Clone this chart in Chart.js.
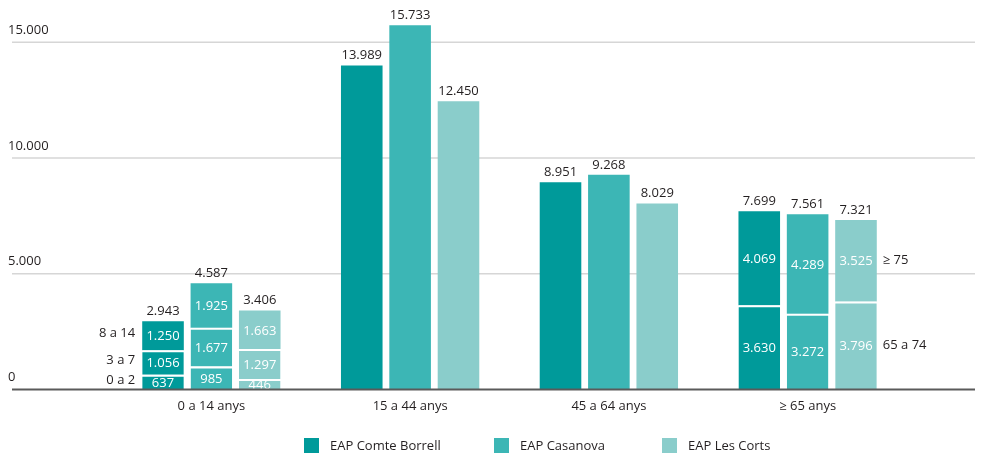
<!DOCTYPE html>
<html>
<head>
<meta charset="utf-8">
<script src="https://cdn.jsdelivr.net/npm/chart.js@4.4.1/dist/chart.umd.min.js"></script>
<style>
  html, body { margin: 0; padding: 0; background: #fff; }
  #wrap { width: 992px; height: 455px; }
</style>
</head>
<body>
<div id="wrap"><canvas id="chart"></canvas></div>
<script>
// categories and series
const categories = ['0 a 14 anys', '15 a 44 anys', '45 a 64 anys', '≥ 65 anys'];
const centres = ['EAP Comte Borrell', 'EAP Casanova', 'EAP Les Corts'];
const centreColors = ['#009a9a', '#3cb6b5', '#8acdcb'];

// stacked segments (bottom to top), null where the group has no split
const comteSeg1 = [637, 13989, 8951, 3630];
const comteSeg2 = [1056, null, null, 4069];
const comteSeg3 = [1250, null, null, null];

const casanovaSeg1 = [985, 15733, 9268, 3272];
const casanovaSeg2 = [1677, null, null, 4289];
const casanovaSeg3 = [1925, null, null, null];

const lesCortsSeg1 = [446, 12450, 8029, 3796];
const lesCortsSeg2 = [1297, null, null, 3525];
const lesCortsSeg3 = [1663, null, null, null];

// age sub-band labels
const youngBands = ['0 a 2', '3 a 7', '8 a 14'];
const oldBands = ['65 a 74', '≥ 75'];

const yTicks = [0, 5000, 10000, 15000];

const FONT = '13px "Open Sans"';
const TEXT = '#231f20';

function fmt(n) {
    return String(n).replace(/\B(?=(\d{3})+(?!\d))/g, '.');
}

const segments = [
    [comteSeg1, comteSeg2, comteSeg3],
    [casanovaSeg1, casanovaSeg2, casanovaSeg3],
    [lesCortsSeg1, lesCortsSeg2, lesCortsSeg3]
];

const datasets = [];
segments.forEach((segs, c) => {
    segs.forEach((data, s) => {
        datasets.push({
            label: centres[c],
            data: data,
            stack: 'c' + c,
            backgroundColor: centreColors[c],
            borderColor: '#ffffff',
            borderSkipped: false,
            borderWidth: ctx => {
                const next = segs[s + 1];
                const above = next && next[ctx.dataIndex] != null;
                return { top: above ? 2 : 0, bottom: 0, left: 0, right: 0 };
            }
        });
    });
});

// grid, axis, labels, legend
const decorPlugin = {
    id: 'decor',
    beforeDatasetsDraw(chart) {
        const ctx = chart.ctx;
        const y = chart.scales.y;
        ctx.save();
        ctx.strokeStyle = '#d6d6d6';
        ctx.lineWidth = 1.5;
        yTicks.forEach(v => {
            if (v === 0) return;
            const py = y.getPixelForValue(v);
            ctx.beginPath();
            ctx.moveTo(12, py);
            ctx.lineTo(975, py);
            ctx.stroke();
        });
        ctx.font = FONT;
        ctx.fillStyle = TEXT;
        ctx.textAlign = 'left';
        ctx.textBaseline = 'middle';
        yTicks.forEach(v => {
            ctx.fillText(fmt(v), 8, y.getPixelForValue(v) - 12);
        });
        ctx.restore();
    },
    afterDatasetsDraw(chart) {
        const ctx = chart.ctx;
        const y = chart.scales.y;
        ctx.save();
        ctx.font = FONT;
        ctx.textAlign = 'center';
        ctx.textBaseline = 'middle';

        // white values inside split segments, totals on top
        segments.forEach((segs, c) => {
            categories.forEach((cat, i) => {
                let total = 0, topY = null, x = null, parts = 0;
                segs.forEach((data, s) => {
                    const v = data[i];
                    if (v == null) return;
                    const bar = chart.getDatasetMeta(c * 3 + s).data[i];
                    total += v;
                    parts++;
                    topY = bar.y;
                    x = bar.x;
                });
                if (parts > 1) {
                    segs.forEach((data, s) => {
                        const v = data[i];
                        if (v == null) return;
                        const bar = chart.getDatasetMeta(c * 3 + s).data[i];
                        ctx.fillStyle = '#ffffff';
                        ctx.fillText(fmt(v), bar.x, (bar.y + bar.base) / 2 + 1);
                    });
                }
                ctx.fillStyle = TEXT;
                ctx.fillText(fmt(total), x, topY - 10);
            });
        });

        // band labels: left of first group, right of last group
        ctx.fillStyle = TEXT;
        ctx.textAlign = 'right';
        youngBands.forEach((lab, s) => {
            const bar = chart.getDatasetMeta(s).data[0];
            ctx.fillText(lab, bar.x - bar.width / 2 - 7, (bar.y + bar.base) / 2 - 2);
        });
        ctx.textAlign = 'left';
        oldBands.forEach((lab, s) => {
            const bar = chart.getDatasetMeta(6 + s).data[3];
            ctx.fillText(lab, bar.x + bar.width / 2 + 6, (bar.y + bar.base) / 2);
        });

        // zero axis line
        const py = y.getPixelForValue(0);
        ctx.strokeStyle = '#5a5a5a';
        ctx.lineWidth = 2;
        ctx.beginPath();
        ctx.moveTo(12, py);
        ctx.lineTo(975, py);
        ctx.stroke();

        // legend
        const boxX = [304, 494, 662];
        ctx.textBaseline = 'middle';
        centres.forEach((name, c) => {
            ctx.fillStyle = centreColors[c];
            ctx.fillRect(boxX[c], 438, 15, 15);
            ctx.fillStyle = TEXT;
            ctx.fillText(name, boxX[c] + 26, 446);
        });
        ctx.restore();
    }
};

new Chart(document.getElementById('chart'), {
    type: 'bar',
    data: { labels: categories, datasets: datasets },
    options: {
        responsive: true,
        maintainAspectRatio: false,
        animation: false,
        layout: { padding: { left: 112, right: 85, top: 19, bottom: 32 } },
        datasets: { bar: { categoryPercentage: 0.73, barPercentage: 0.86 } },
        plugins: {
            legend: { display: false },
            tooltip: { enabled: false }
        },
        scales: {
            x: {
                stacked: true,
                grid: { display: false, drawTicks: false },
                border: { display: false },
                ticks: { color: TEXT, font: { family: 'Open Sans', size: 13 }, padding: 9 }
            },
            y: {
                stacked: true,
                display: false,
                min: 0,
                max: 16000
            }
        }
    },
    plugins: [decorPlugin]
});
</script>
</body>
</html>
